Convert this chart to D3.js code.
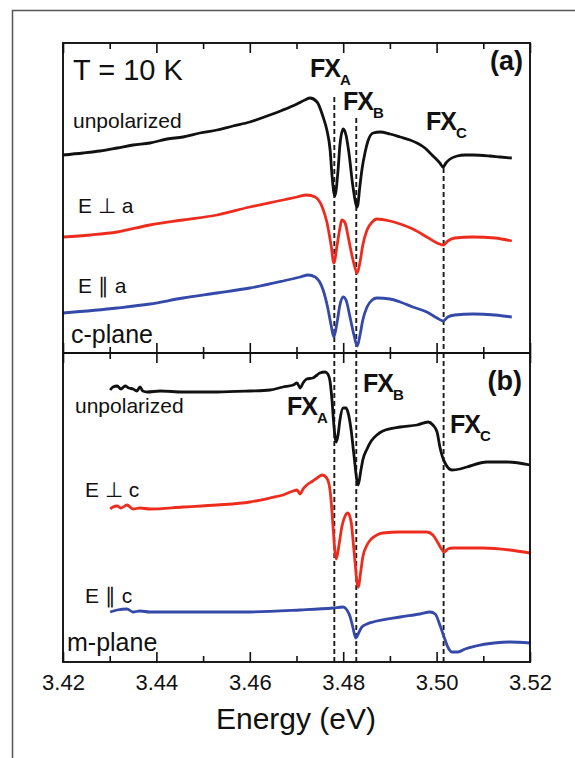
<!DOCTYPE html>
<html>
<head>
<meta charset="utf-8">
<script src="https://cdn.jsdelivr.net/npm/d3@7"></script>
<style>
body { margin: 0; background: #fff; }
svg { display: block; }
text { font-family: "Liberation Sans", Arial, Helvetica, sans-serif; fill: #111; }
</style>
</head>
<body>
<div id="chart"></div>
<script>
// Width and height
var chart_width  = 575;
var chart_height = 758;

// Exciton energies (eV) for the dashed markers
var fxEnergies = [3.4781, 3.4828, 3.5015];

// Energy ticks
var majorTicks = [3.42, 3.44, 3.46, 3.48, 3.50, 3.52];
var minorTicks = [3.43, 3.45, 3.47, 3.49, 3.51];
var tickLabels = ['3.42', '3.44', '3.46', '3.48', '3.50', '3.52'];

// (a) c-plane spectra: [energy, offset reflectance a.u.]
var aUnpol = [[3.4200,19.8],[3.4243,20.0],[3.4279,20.2],[3.4316,20.5],[3.4350,20.8],[3.4386,21.0],[3.4423,21.4],[3.4457,21.6],[3.4493,22.0],[3.4530,22.3],[3.4564,22.7],[3.4600,23.1],[3.4637,23.7],[3.4671,24.3],[3.4701,24.9],[3.4718,25.3],[3.4729,25.5],[3.4744,25.1],[3.4757,23.6],[3.4765,22.3],[3.4772,20.3],[3.4776,17.8],[3.4782,15.7],[3.4789,18.3],[3.4793,20.8],[3.4800,22.4],[3.4806,21.8],[3.4812,20.1],[3.4821,16.6],[3.4830,14.6],[3.4836,16.8],[3.4840,18.3],[3.4847,20.1],[3.4853,21.2],[3.4864,22.0],[3.4879,22.1],[3.4900,21.9],[3.4922,21.6],[3.4943,21.3],[3.4958,21.0],[3.4975,20.5],[3.4986,20.0],[3.4997,19.5],[3.5007,19.0],[3.5014,18.6],[3.5020,19.0],[3.5029,19.4],[3.5044,19.7],[3.5061,19.8],[3.5078,19.8],[3.5114,19.7],[3.5136,19.6],[3.5161,19.5]];
var aPerp = [[3.4200,11.6],[3.4258,11.8],[3.4316,12.1],[3.4386,12.8],[3.4457,13.3],[3.4530,13.8],[3.4600,14.6],[3.4671,15.3],[3.4701,15.6],[3.4722,15.8],[3.4740,15.6],[3.4755,14.6],[3.4765,13.1],[3.4774,10.8],[3.4780,9.0],[3.4787,10.8],[3.4793,12.5],[3.4797,13.3],[3.4804,13.0],[3.4812,11.3],[3.4821,9.3],[3.4830,8.0],[3.4836,9.1],[3.4842,10.8],[3.4851,12.3],[3.4862,13.1],[3.4872,13.4],[3.4900,13.2],[3.4922,12.9],[3.4949,12.4],[3.4979,11.6],[3.5001,11.0],[3.5014,10.8],[3.5024,11.2],[3.5039,11.5],[3.5078,11.6],[3.5125,11.5],[3.5161,11.2]];
var aPar = [[3.4200,4.0],[3.4316,4.5],[3.4386,4.9],[3.4457,5.5],[3.4530,6.0],[3.4600,6.5],[3.4671,7.2],[3.4708,7.6],[3.4725,7.8],[3.4740,7.6],[3.4757,6.3],[3.4767,4.5],[3.4774,2.8],[3.4780,1.6],[3.4787,3.1],[3.4793,4.8],[3.4800,5.6],[3.4806,5.3],[3.4815,3.5],[3.4823,1.8],[3.4830,0.7],[3.4836,1.8],[3.4842,3.3],[3.4851,4.6],[3.4862,5.3],[3.4872,5.5],[3.4900,5.4],[3.4922,5.1],[3.4949,4.6],[3.4979,4.1],[3.5001,3.5],[3.5014,3.2],[3.5024,3.6],[3.5039,3.8],[3.5078,3.9],[3.5125,3.8],[3.5161,3.6]];

// (b) m-plane spectra
var bUnpol = [[3.4301,27.2],[3.4307,27.5],[3.4316,27.6],[3.4324,27.3],[3.4333,27.6],[3.4341,27.4],[3.4350,27.3],[3.4358,27.1],[3.4365,27.5],[3.4371,27.1],[3.4380,27.0],[3.4408,27.1],[3.4457,27.0],[3.4530,27.0],[3.4600,27.1],[3.4643,27.2],[3.4671,27.5],[3.4693,27.7],[3.4701,27.9],[3.4708,27.4],[3.4714,27.9],[3.4722,28.3],[3.4735,28.4],[3.4744,28.7],[3.4750,28.9],[3.4761,29.0],[3.4767,28.8],[3.4772,28.0],[3.4776,26.2],[3.4780,23.7],[3.4785,22.0],[3.4789,22.7],[3.4793,24.2],[3.4800,25.4],[3.4806,25.4],[3.4810,25.0],[3.4817,23.2],[3.4823,20.7],[3.4832,17.7],[3.4838,19.2],[3.4842,20.2],[3.4851,21.3],[3.4860,22.1],[3.4872,22.7],[3.4885,23.1],[3.4922,23.5],[3.4958,23.7],[3.4982,24.0],[3.4992,23.7],[3.5001,23.0],[3.5007,21.5],[3.5018,19.9],[3.5033,19.2],[3.5050,19.3],[3.5065,19.5],[3.5108,20.0],[3.5151,20.0],[3.5200,19.7]];
var bPerp = [[3.4301,15.3],[3.4307,15.5],[3.4316,15.6],[3.4324,15.4],[3.4337,15.7],[3.4350,15.3],[3.4365,15.4],[3.4386,15.3],[3.4457,15.5],[3.4530,15.7],[3.4600,16.0],[3.4643,16.4],[3.4671,16.7],[3.4693,17.1],[3.4701,17.2],[3.4708,16.8],[3.4714,17.3],[3.4722,17.7],[3.4735,18.1],[3.4744,18.4],[3.4755,18.7],[3.4763,18.5],[3.4770,17.7],[3.4774,16.2],[3.4778,13.7],[3.4782,11.2],[3.4785,10.3],[3.4791,11.7],[3.4797,13.5],[3.4804,14.6],[3.4810,14.9],[3.4817,14.0],[3.4823,11.2],[3.4832,7.5],[3.4838,9.2],[3.4842,10.5],[3.4851,11.7],[3.4860,12.3],[3.4872,12.7],[3.4885,12.9],[3.4922,13.0],[3.4979,13.0],[3.4992,12.7],[3.5003,11.9],[3.5012,11.2],[3.5016,11.0],[3.5024,11.3],[3.5035,11.4],[3.5099,11.4],[3.5157,11.2],[3.5200,10.9]];
var bPar = [[3.4301,5.0],[3.4316,5.2],[3.4337,5.3],[3.4350,5.0],[3.4365,5.1],[3.4386,5.0],[3.4457,5.0],[3.4600,5.0],[3.4708,5.2],[3.4778,5.4],[3.4800,5.5],[3.4808,5.2],[3.4815,4.5],[3.4821,3.4],[3.4827,2.4],[3.4834,3.0],[3.4840,3.5],[3.4851,3.8],[3.4864,4.0],[3.4922,4.5],[3.4964,4.8],[3.4986,5.0],[3.4997,4.8],[3.5007,3.7],[3.5016,2.5],[3.5024,1.5],[3.5033,1.0],[3.5046,1.0],[3.5061,1.3],[3.5084,1.6],[3.5123,1.9],[3.5157,2.0],[3.5200,1.9]];

var black = '#111111', red = '#ee2c1e', blue = '#3449a8';

// Scales
var x  = d3.scaleLinear().domain([3.42, 3.52]).range([63, 530]);
var yA = d3.scaleLinear().domain([0, 31]).range([353, 43]);
var yB = d3.scaleLinear().domain([0, 30.9]).range([662, 353]);

// Create SVG
var svg = d3.select('#chart')
    .append('svg')
    .attr('width', chart_width)
    .attr('height', chart_height);

// outer figure frame (runs off the right and bottom)
svg.append('rect')
    .attr('x', 12.5).attr('y', 10.5)
    .attr('width', 700).attr('height', 900)
    .attr('fill', 'none')
    .attr('stroke', '#555')
    .attr('stroke-width', 1.5);

// dashed exciton markers
var dashTopA = [25.6, 23.5, 18.5];
fxEnergies.forEach(function(e, i){
    svg.append('line')
        .attr('x1', x(e)).attr('x2', x(e))
        .attr('y1', yA(dashTopA[i])).attr('y2', yA(0))
        .attr('stroke', '#1a1a1a').attr('stroke-width', 1.9)
        .attr('stroke-dasharray', '5,3');
    svg.append('line')
        .attr('x1', x(e)).attr('x2', x(e))
        .attr('y1', yB(30.9)).attr('y2', yB(0))
        .attr('stroke', '#1a1a1a').attr('stroke-width', 1.9)
        .attr('stroke-dasharray', '5,3');
});

// spectra
var lineA = d3.line().x(function(d){ return x(d[0]); }).y(function(d){ return yA(d[1]); }).curve(d3.curveMonotoneX);
var lineB = d3.line().x(function(d){ return x(d[0]); }).y(function(d){ return yB(d[1]); }).curve(d3.curveMonotoneX);

[[aUnpol, black, lineA], [aPerp, red, lineA], [aPar, blue, lineA],
 [bUnpol, black, lineB], [bPerp, red, lineB], [bPar, blue, lineB]].forEach(function(s){
    svg.append('path')
        .attr('d', s[2](s[0]))
        .attr('fill', 'none')
        .attr('stroke', s[1])
        .attr('stroke-width', 2.8)
        .attr('stroke-linejoin', 'round');
});

// inward ticks on every horizontal edge
function ticks(axisFn, y, values, size){
    svg.append('g')
        .attr('transform', 'translate(0,' + y + ')')
        .call(axisFn(x).tickValues(values).tickSize(size).tickSizeOuter(0).tickFormat(''))
        .call(function(g){ g.select('.domain').remove(); })
        .selectAll('line').attr('stroke', '#111').attr('stroke-width', 1.6);
}
ticks(d3.axisTop, 43, majorTicks, -10);
ticks(d3.axisTop, 43, minorTicks, -6);
ticks(d3.axisBottom, 353, majorTicks, -10);
ticks(d3.axisBottom, 353, minorTicks, -6);
ticks(d3.axisTop, 353, majorTicks, -10);
ticks(d3.axisTop, 353, minorTicks, -6);
ticks(d3.axisBottom, 662, minorTicks, -6);

// labelled bottom axis
var xAxis = svg.append('g')
    .attr('transform', 'translate(0,662)')
    .call(d3.axisBottom(x).tickValues(majorTicks).tickSize(-10).tickSizeOuter(0).tickPadding(12)
        .tickFormat(function(d, i){ return tickLabels[i]; }));
xAxis.select('.domain').remove();
xAxis.selectAll('line').attr('stroke', '#111').attr('stroke-width', 1.6);
xAxis.selectAll('text')
    .style('font-family', '"Liberation Sans", Arial, sans-serif')
    .style('font-size', '22px')
    .attr('fill', '#111');

// panel frames
svg.append('rect')
    .attr('x', 63).attr('y', 43).attr('width', 467).attr('height', 619)
    .attr('fill', 'none').attr('stroke', '#111').attr('stroke-width', 1.9);
svg.append('line')
    .attr('x1', 63).attr('x2', 530).attr('y1', 353).attr('y2', 353)
    .attr('stroke', '#111').attr('stroke-width', 1.9);

// axis title
svg.append('text')
    .attr('x', 296).attr('y', 729)
    .attr('text-anchor', 'middle')
    .style('font-size', '30px')
    .text('Energy (eV)');

// plain labels
var plainLabels = [
    ['T = 10 K', 73, 80, 29],
    ['unpolarized', 73, 128, 21],
    ['E \u22A5 a', 78, 213, 21],
    ['E \u2225 a', 78, 293, 21],
    ['c-plane', 71, 343, 25],
    ['unpolarized', 75, 413, 21],
    ['E \u22A5 c', 85, 497, 21],
    ['E \u2225 c', 85, 603, 21],
    ['m-plane', 67, 651, 25]
];
plainLabels.forEach(function(l){
    svg.append('text')
        .attr('x', l[1]).attr('y', l[2])
        .style('font-size', l[3] + 'px')
        .attr('xml:space', 'preserve')
        .text(l[0]);
});

// exciton labels with subscripts
var fxLabels = [
    ['A', 310, 77], ['B', 343, 110], ['C', 426, 130],
    ['A', 287, 415], ['B', 363, 392], ['C', 450, 433]
];
fxLabels.forEach(function(l){
    var t = svg.append('text')
        .attr('x', l[1]).attr('y', l[2])
        .style('font-size', '25px')
        .style('font-weight', 'bold')
        .attr('letter-spacing', '-1');
    t.append('tspan').text('FX');
    t.append('tspan').attr('dy', 8).style('font-size', '15px').text(l[0]);
});

// panel tags
svg.append('text').attr('x', 523).attr('y', 70).attr('text-anchor', 'end')
    .style('font-size', '27px').style('font-weight', 'bold').text('(a)');
svg.append('text').attr('x', 522).attr('y', 390).attr('text-anchor', 'end')
    .style('font-size', '27px').style('font-weight', 'bold').text('(b)');
</script>
</body>
</html>
